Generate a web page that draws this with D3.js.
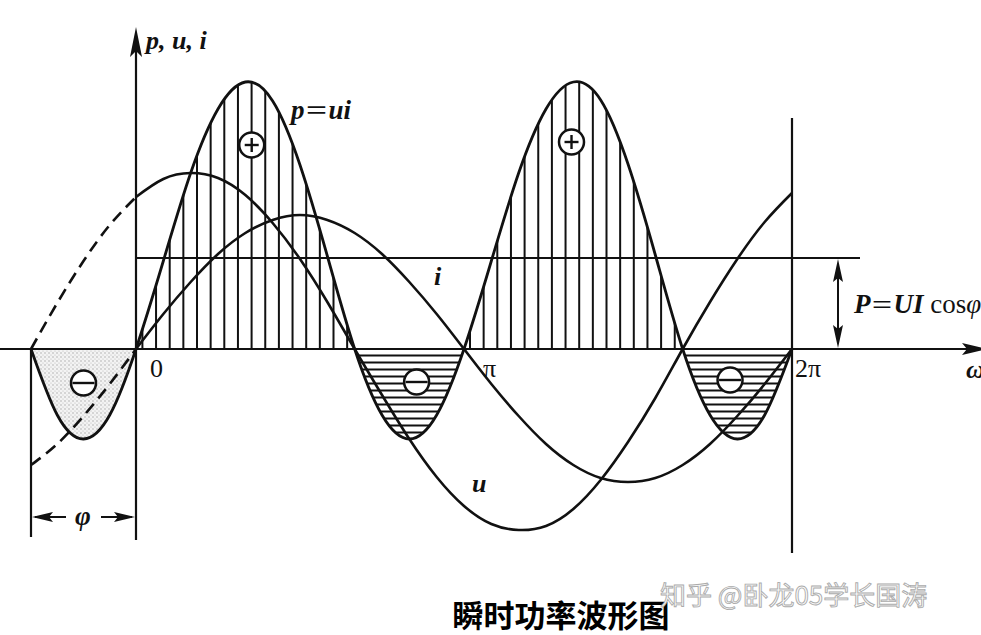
<!DOCTYPE html>
<html>
<head>
<meta charset="utf-8">
<script src="https://cdn.jsdelivr.net/npm/d3@7/dist/d3.min.js"></script>
<style>
  html, body { margin: 0; padding: 0; background: #fff; overflow: hidden; }
  svg { display: block; }
  .serif { font-family: "Liberation Serif", "DejaVu Serif", serif; }
</style>
</head>
<body>
<svg id="chart" width="981" height="635"></svg>
<script>
// phase angle ωt in degrees (sampled every 15°)
const degrees = [-60, -45, -30, -15, 0, 15, 30, 45, 60, 75, 90, 105, 120, 135, 150, 165,
  180, 195, 210, 225, 240, 255, 270, 285, 300, 315, 330, 345, 360];
// voltage u (leads by φ)
const uValues = [0, 46, 88, 124, 152, 170, 176, 171, 154, 126, 90, 47, 0, -46, -90, -128,
  -157, -175, -181, -177, -160, -131, -93, -49, 0, 47, 90, 127, 156];
// current i
const iValues = [-116, -95, -67, -35, 0, 35, 67, 95, 116, 129, 134, 129, 116, 95, 67, 35,
  0, -35, -67, -95, -116, -129, -133, -129, -116, -95, -67, -35, 0];
// instantaneous power p = ui
const pValues = [0, -66, -90, -66, 0, 88, 176, 240, 267, 248, 184, 93, 0, -66, -90, -66,
  0, 88, 176, 240, 267, 249, 185, 94, 0, -66, -90, -66, 0];
// average power P = UI cosφ
const averagePower = 91;
const phiDeg = -60;

const xTickLabels = ["0", "π", "2π"];
const xTickDegrees = [0, 180, 360];

// ⊕ / ⊖ markers (deg, value)
const markDegrees = [63.5, 239, -30, 154, 326];
const markValues = [204, 207, -34, -33, -31];
const markSigns = ["+", "+", "-", "-", "-"];

const svg = d3.select("#chart");
const ink = "#111";

const x = d3.scaleLinear().domain([-60, 0, 360]).range([31, 136, 792]);
const y = d3.scaleLinear().domain([-100, 300]).range([449, 49]);
const y0 = y(0);

const pts = vals => degrees.map((d, k) => ({ deg: d, v: vals[k] }));
const uPts = pts(uValues), iPts = pts(iValues), pPts = pts(pValues);

const line = d3.line().x(d => x(d.deg)).y(d => y(d.v)).curve(d3.curveNatural);
const area = d3.area().x(d => x(d.deg)).y0(y0).y1(d => y(d.v)).curve(d3.curveNatural);

// defs: clip paths + stipple pattern
const defs = svg.append("defs");
defs.append("clipPath").attr("id", "pArea").append("path").attr("d", area(pPts));
defs.append("clipPath").attr("id", "upper").append("rect")
  .attr("x", x(0)).attr("y", 0).attr("width", x(360) - x(0)).attr("height", y0);
defs.append("clipPath").attr("id", "lower").append("rect")
  .attr("x", x(0)).attr("y", y0).attr("width", x(360) - x(0)).attr("height", 200);
defs.append("clipPath").attr("id", "left").append("rect")
  .attr("x", x(phiDeg)).attr("y", y0).attr("width", x(0) - x(phiDeg)).attr("height", 200);

const pat = defs.append("pattern").attr("id", "dots")
  .attr("width", 4).attr("height", 4).attr("patternUnits", "userSpaceOnUse");
pat.append("rect").attr("width", 4).attr("height", 4).attr("fill", "#f3f3f3");
pat.append("circle").attr("cx", 1).attr("cy", 1).attr("r", 0.7).attr("fill", "#a0a0a0");
pat.append("circle").attr("cx", 3).attr("cy", 3).attr("r", 0.6).attr("fill", "#b8b8b8");

// positive lobes: vertical hatching
svg.append("g").attr("clip-path", "url(#upper)")
  .append("g").attr("clip-path", "url(#pArea)")
  .selectAll("line").data(d3.range(142.4, 792, 13.65)).enter().append("line")
  .attr("x1", d => d).attr("x2", d => d).attr("y1", 40).attr("y2", y0)
  .attr("stroke", ink).attr("stroke-width", 2);

// negative lobes: horizontal hatching
svg.append("g").attr("clip-path", "url(#lower)")
  .append("g").attr("clip-path", "url(#pArea)")
  .selectAll("line").data(d3.range(355.5, 450, 7)).enter().append("line")
  .attr("x1", x(0)).attr("x2", x(360)).attr("y1", d => d).attr("y2", d => d)
  .attr("stroke", ink).attr("stroke-width", 1.8);

// left lobe: stipple
svg.append("g").attr("clip-path", "url(#left)")
  .append("g").attr("clip-path", "url(#pArea)")
  .append("rect").attr("x", x(phiDeg)).attr("y", y0)
  .attr("width", x(0) - x(phiDeg)).attr("height", 200).attr("fill", "url(#dots)");

// axes and guide lines
const g = svg.append("g").attr("stroke", ink).attr("fill", "none");
g.append("line").attr("x1", 0).attr("x2", 975).attr("y1", y0).attr("y2", y0).attr("stroke-width", 2.2);
g.append("line").attr("x1", x(0)).attr("x2", x(0)).attr("y1", 40).attr("y2", 540).attr("stroke-width", 2.2);
g.append("line").attr("x1", x(360)).attr("x2", x(360)).attr("y1", 118).attr("y2", 553).attr("stroke-width", 2.2);
g.append("line").attr("x1", x(phiDeg)).attr("x2", x(phiDeg)).attr("y1", y0).attr("y2", 537).attr("stroke-width", 2.2);
g.append("line").attr("x1", x(0)).attr("x2", 860)
  .attr("y1", y(averagePower)).attr("y2", y(averagePower)).attr("stroke-width", 1.9);

// arrowheads
const arrows = svg.append("g").attr("fill", ink);
arrows.append("path").attr("d", `M${x(0)},27 L${x(0) + 6},57 L${x(0)},51 L${x(0) - 6},57 Z`);
arrows.append("path").attr("d", `M988,${y0} L962,${y0 - 6} L967,${y0} L962,${y0 + 6} Z`);

// φ dimension arrow
const phiY = 517;
g.append("line").attr("x1", x(phiDeg) + 4).attr("x2", 66).attr("y1", phiY).attr("y2", phiY).attr("stroke-width", 2);
g.append("line").attr("x1", 101).attr("x2", x(0) - 4).attr("y1", phiY).attr("y2", phiY).attr("stroke-width", 2);
arrows.append("path").attr("d", `M${x(phiDeg) + 1},${phiY} L${x(phiDeg) + 22},${phiY - 5} L${x(phiDeg) + 18},${phiY} L${x(phiDeg) + 22},${phiY + 5} Z`);
arrows.append("path").attr("d", `M${x(0) - 1},${phiY} L${x(0) - 22},${phiY - 5} L${x(0) - 18},${phiY} L${x(0) - 22},${phiY + 5} Z`);

// P dimension arrow
const pX = 838;
g.append("line").attr("x1", pX).attr("x2", pX).attr("y1", y(averagePower) + 6).attr("y2", y0 - 6).attr("stroke-width", 2);
arrows.append("path").attr("d", `M${pX},${y(averagePower) + 1} L${pX - 5},${y(averagePower) + 24} L${pX},${y(averagePower) + 20} L${pX + 5},${y(averagePower) + 24} Z`);
arrows.append("path").attr("d", `M${pX},${y0 - 1} L${pX - 5},${y0 - 24} L${pX},${y0 - 20} L${pX + 5},${y0 - 24} Z`);

// curves
const curves = svg.append("g").attr("fill", "none").attr("stroke", ink).attr("stroke-width", 2.6);
curves.append("path").attr("d", line(uPts.filter(d => d.deg >= 0)));
curves.append("path").attr("d", line(iPts.filter(d => d.deg >= 0)));
curves.append("path").attr("d", line(uPts.filter(d => d.deg <= 0))).attr("stroke-dasharray", "12,7");
curves.append("path").attr("d", line(iPts.filter(d => d.deg <= 0))).attr("stroke-dasharray", "12,7");
curves.append("path").attr("d", line(pPts)).attr("stroke-width", 2.8);

// ⊕ / ⊖ markers
const marks = svg.append("g").selectAll("g").data(markDegrees).enter().append("g")
  .attr("transform", (d, k) => `translate(${x(d)},${y(markValues[k])})`);
marks.append("circle").attr("r", 12.5).attr("fill", "#fff").attr("stroke", ink).attr("stroke-width", 2.5);
marks.append("line").attr("x1", (d, k) => markSigns[k] === "+" ? -7 : -11)
  .attr("x2", (d, k) => markSigns[k] === "+" ? 7 : 11)
  .attr("y1", 0).attr("y2", 0).attr("stroke", ink).attr("stroke-width", 2.4);
marks.filter((d, k) => markSigns[k] === "+").append("line")
  .attr("x1", 0).attr("x2", 0).attr("y1", -7).attr("y2", 7).attr("stroke", ink).attr("stroke-width", 2.4);

// text labels
const txt = svg.append("g").attr("class", "serif").attr("fill", ink);
txt.append("text").attr("x", 146).attr("y", 49).attr("font-size", 26)
  .attr("font-style", "italic").attr("font-weight", "bold").text("p, u, i");

const pui = txt.append("text").attr("x", 291).attr("y", 119).attr("font-size", 27).attr("font-weight", "bold");
pui.append("tspan").attr("font-style", "italic").text("p");
pui.append("tspan").attr("font-family", "Noto Sans CJK SC").attr("font-weight", "normal").attr("font-size", 24).text("＝");
pui.append("tspan").attr("font-style", "italic").text("ui");

txt.append("text").attr("x", 434).attr("y", 285).attr("font-size", 26)
  .attr("font-style", "italic").attr("font-weight", "bold").text("i");
txt.append("text").attr("x", 472).attr("y", 492).attr("font-size", 26)
  .attr("font-style", "italic").attr("font-weight", "bold").text("u");

const tickDx = [14, 19, 3];
txt.selectAll(".tick").data(xTickDegrees).enter().append("text").attr("class", "tick")
  .attr("x", (d, k) => x(d) + tickDx[k]).attr("y", y0 + 28).attr("font-size", 26)
  .text((d, k) => xTickLabels[k]);

txt.append("text").attr("x", 83).attr("y", 525).attr("text-anchor", "middle").attr("font-size", 27)
  .attr("font-style", "italic").attr("font-weight", "bold").text("φ");

const pLabel = txt.append("text").attr("x", 854).attr("y", 313).attr("font-size", 27);
pLabel.append("tspan").attr("font-style", "italic").attr("font-weight", "bold").text("P");
pLabel.append("tspan").attr("font-family", "Noto Sans CJK SC").attr("font-size", 23).text("＝");
pLabel.append("tspan").attr("font-style", "italic").attr("font-weight", "bold").text("UI");
pLabel.append("tspan").text(" cos");
pLabel.append("tspan").attr("font-style", "italic").text("φ");

txt.append("text").attr("x", 966).attr("y", 378).attr("font-size", 26)
  .attr("font-style", "italic").attr("font-weight", "bold").text("ωt");

// caption and watermark
svg.append("text").attr("x", 561).attr("y", 627).attr("text-anchor", "middle")
  .attr("font-family", "Noto Sans CJK SC").attr("font-weight", "bold").attr("font-size", 31)
  .attr("fill", "#000").text("瞬时功率波形图");
svg.append("text").attr("x", 660).attr("y", 605)
  .attr("font-family", "Noto Sans CJK SC").attr("font-size", 26)
  .attr("fill", "#fdfdfd").attr("stroke", "#ababab").attr("stroke-width", 0.9)
  .text("知乎 @卧龙05学长国涛");
</script>
</body>
</html>
